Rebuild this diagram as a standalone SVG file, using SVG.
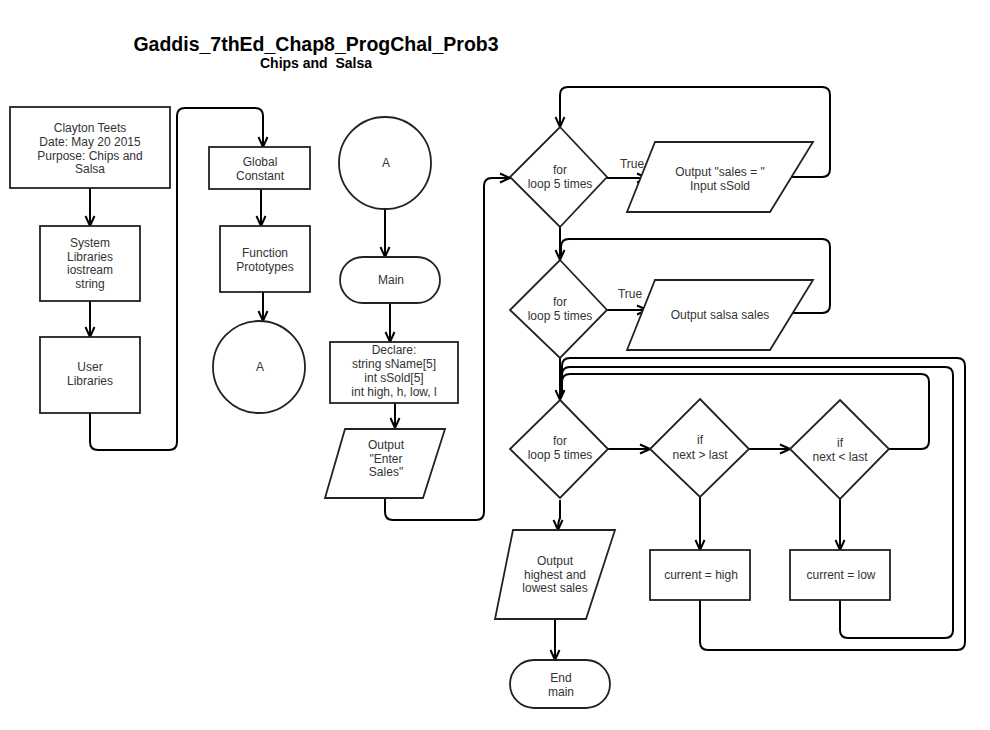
<svg xmlns="http://www.w3.org/2000/svg" width="990" height="730" viewBox="0 0 990 730">
<defs>
<marker id="arr" viewBox="0 0 12 12" refX="11" refY="6" markerWidth="12" markerHeight="12" markerUnits="userSpaceOnUse" orient="auto">
<path d="M1,1.5 L11,6 L1,10.5" fill="none" stroke="#000" stroke-width="2"/>
</marker>
</defs>
<style>
.n{fill:#fff;stroke:#222;stroke-width:1.8}
.t{font-family:"Liberation Sans",Arial,sans-serif;font-size:12px;fill:#333;text-anchor:middle}
.c{fill:none;stroke:#000;stroke-width:2}
.a{marker-end:url(#arr)}
.h{font-family:"Liberation Sans",Arial,sans-serif;font-weight:bold;fill:#000;text-anchor:middle}
</style>
<rect width="990" height="730" fill="#fff"/>
<text class="h" x="316" y="51" font-size="19.5">Gaddis_7thEd_Chap8_ProgChal_Prob3</text>
<text class="h" x="316" y="68" font-size="14" xml:space="preserve" style="white-space:pre">Chips and  Salsa</text>

<g id="connectors">
<path class="c a" d="M90,188 V226"/>
<path class="c a" d="M90,301 V337"/>
<path class="c a" d="M90,413 V442 Q90,450 98,450 H169 Q177,450 177,442 V116 Q177,108 185,108 H255 Q263,108 263,116 V147"/>
<path class="c a" d="M261,189 V226"/>
<path class="c a" d="M263,292 V321"/>
<path class="c a" d="M385,209 V257"/>
<path class="c a" d="M390,303 V342"/>
<path class="c a" d="M395,403 V428"/>
<path class="c a" d="M385,498 V512 Q385,520 393,520 H476 Q484,520 484,512 V186 Q484,178 492,178 H510"/>
<path class="c a" d="M607,178 H647"/>
<path class="c a" d="M791,177 H822 Q830,177 830,169 V95 Q830,87 822,87 H568 Q560,87 560,95 V127"/>
<path class="c a" d="M560,227 V260"/>
<path class="c a" d="M607,310 H647"/>
<path class="c" d="M791,313 H822 Q830,313 830,305 V247 Q830,239 822,239 H569 Q561,239 561,247 V255"/>
<path class="c a" d="M560,358 V400"/>
<path class="c" d="M700,600 V642 Q700,650 708,650 H957 Q965,650 965,642 V366 Q965,358 957,358 H570 Q562,358 562,366 V395"/>
<path class="c" d="M840,600 V630 Q840,638 848,638 H945 Q953,638 953,630 V375 Q953,367 945,367 H570 Q562,367 562,375 V395"/>
<path class="c" d="M889,449 H921 Q929,449 929,441 V382 Q929,374 921,374 H570 Q562,374 562,382 V395"/>
<path class="c a" d="M608,449 H650"/>
<path class="c a" d="M749,449 H790"/>
<path class="c a" d="M700,497 V550"/>
<path class="c a" d="M840,499 V550"/>
<path class="c a" d="M560,500 V518 Q558,522 558,530"/>
<path class="c a" d="M555,620 V660"/>
<text class="t" x="632" y="168">True</text>
<text class="t" x="630" y="298">True</text>
</g>

<g id="header"><rect class="n" x="10" y="107" width="160" height="81"/>
<text class="t" x="90" y="132">Clayton Teets</text><text class="t" x="90" y="146">Date: May 20 2015</text><text class="t" x="90" y="160">Purpose: Chips and</text><text class="t" x="90" y="173">Salsa</text></g>
<g id="syslib"><rect class="n" x="40" y="226" width="100" height="75"/>
<text class="t" x="90" y="247">System</text><text class="t" x="90" y="261">Libraries</text><text class="t" x="90" y="274">iostream</text><text class="t" x="90" y="288">string</text></g>
<g id="userlib"><rect class="n" x="40" y="337" width="100" height="76"/>
<text class="t" x="90" y="371">User</text><text class="t" x="90" y="385">Libraries</text></g>
<g id="global"><rect class="n" x="209" y="147" width="101" height="42"/>
<text class="t" x="260" y="166">Global</text><text class="t" x="260" y="180">Constant</text></g>
<g id="protos"><rect class="n" x="220" y="226" width="90" height="66"/>
<text class="t" x="265" y="257">Function</text><text class="t" x="265" y="271">Prototypes</text></g>
<g id="connA1"><circle class="n" cx="259" cy="367" r="46"/><text class="t" x="260" y="371">A</text></g>
<g id="connA2"><circle class="n" cx="385" cy="163" r="46"/><text class="t" x="386" y="167">A</text></g>
<g id="main"><rect class="n" x="340" y="257" width="100" height="46" rx="23"/><text class="t" x="391" y="284">Main</text></g>
<g id="declare"><rect class="n" x="330" y="342" width="128" height="61"/>
<text class="t" x="394" y="354">Declare:</text><text class="t" x="394" y="368">string sName[5]</text><text class="t" x="394" y="382">int sSold[5]</text><text class="t" x="394" y="396">int high, h, low, l</text></g>
<g id="enterSales"><polygon class="n" points="345,429 445,429 423,498 325,498"/>
<text class="t" x="386" y="449">Output</text><text class="t" x="386" y="463">"Enter</text><text class="t" x="386" y="476">Sales"</text></g>
<g id="loop1"><polygon class="n" points="560,127 607,177 560,227 510,177"/>
<text class="t" x="560" y="174">for</text><text class="t" x="560" y="188">loop 5 times</text></g>
<g id="inputSold"><polygon class="n" points="655,142 813,142 770,212 627,212"/>
<text class="t" x="720" y="176">Output "sales = "</text><text class="t" x="720" y="190">Input sSold</text></g>
<g id="loop2"><polygon class="n" points="560,260 607,310 560,358 510,310"/>
<text class="t" x="560" y="306">for</text><text class="t" x="560" y="320">loop 5 times</text></g>
<g id="salsaOut"><polygon class="n" points="655,280 813,280 770,350 627,350"/>
<text class="t" x="720" y="319">Output salsa sales</text></g>
<g id="loop3"><polygon class="n" points="560,400 608,449 560,498 510,449"/>
<text class="t" x="560" y="445">for</text><text class="t" x="560" y="459">loop 5 times</text></g>
<g id="ifHigh"><polygon class="n" points="700,399 749,449 700,497 650,449"/>
<text class="t" x="700" y="444">if</text><text class="t" x="700" y="459">next &gt; last</text></g>
<g id="ifLow"><polygon class="n" points="840,400 889,449 840,499 790,449"/>
<text class="t" x="840" y="447">if</text><text class="t" x="840" y="461">next &lt; last</text></g>
<g id="setHigh"><rect class="n" x="650" y="550" width="100" height="50"/><text class="t" x="701" y="579">current = high</text></g>
<g id="setLow"><rect class="n" x="790" y="550" width="100" height="50"/><text class="t" x="841" y="579">current = low</text></g>
<g id="outHL"><polygon class="n" points="513,530 615,530 586,619 495,619"/>
<text class="t" x="555" y="565">Output</text><text class="t" x="555" y="579">highest and</text><text class="t" x="555" y="592">lowest sales</text></g>
<g id="endMain"><rect class="n" x="510" y="660" width="100" height="48" rx="24"/>
<text class="t" x="561" y="682">End</text><text class="t" x="561" y="696">main</text></g>
</svg>
